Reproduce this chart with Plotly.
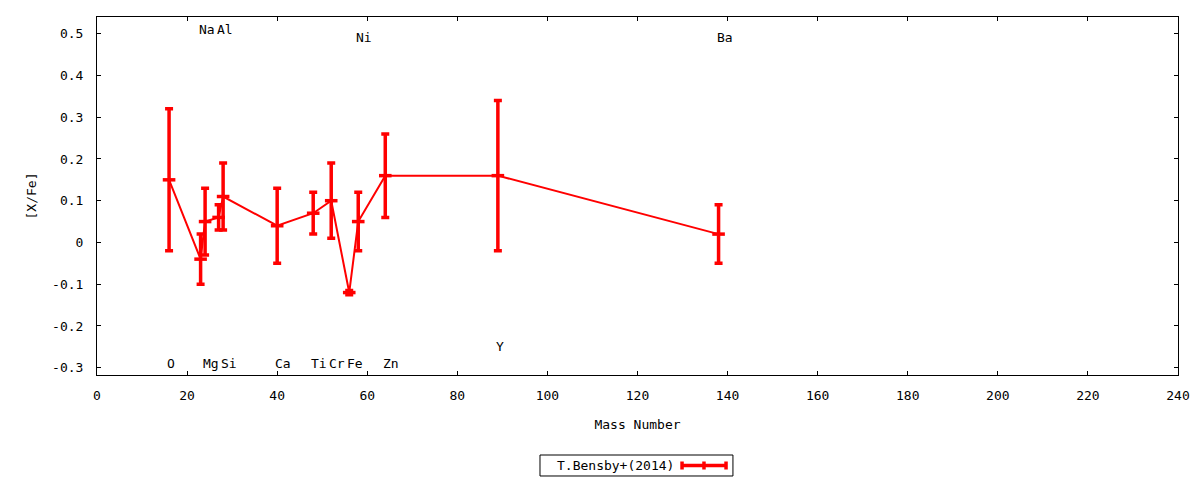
import plotly.graph_objects as go

# abundances [X/Fe] vs mass number, T.Bensby+(2014)
elements = ["O", "Na", "Mg", "Al", "Si", "Ca", "Ti", "Cr", "Fe", "Ni", "Zn", "Y", "Ba"]
mass = [16, 23, 24, 27, 28, 40, 48, 52, 56, 58, 64, 89, 138]
xfe = [0.15, -0.04, 0.05, 0.06, 0.11, 0.04, 0.07, 0.10, -0.12, 0.05, 0.16, 0.16, 0.02]
err = [0.17, 0.06, 0.08, 0.03, 0.08, 0.09, 0.05, 0.09, 0.005, 0.07, 0.10, 0.18, 0.07]

# where the element names sit
label_y = [-0.29, 0.51, -0.29, 0.51, -0.29, -0.29, -0.29, -0.29, -0.29, 0.49, -0.29, -0.25, 0.49]

x_ticks = [0, 20, 40, 60, 80, 100, 120, 140, 160, 180, 200, 220, 240]
y_ticks = [-0.3, -0.2, -0.1, 0, 0.1, 0.2, 0.3, 0.4, 0.5]
y_tick_text = ["-0.3", "-0.2", "-0.1", "0", "0.1", "0.2", "0.3", "0.4", "0.5"]

series_name = "T.Bensby+(2014)"

FONT = "DejaVu Sans Mono"
FS = 13
RED = "#ff0000"

fig = go.Figure()
fig.add_trace(go.Scatter(
    x=mass, y=xfe, mode="lines+markers", name=series_name,
    line=dict(color=RED, width=2),
    marker=dict(symbol="line-ew", size=9, color=RED, line=dict(color=RED, width=3.5)),
    error_y=dict(type="data", array=err, visible=True, color=RED, thickness=3.5, width=4),
    showlegend=False,
))

for el, m, ly in zip(elements, mass, label_y):
    fig.add_annotation(x=m - 0.9, y=ly, text=el, showarrow=False, xanchor="left",
                       yanchor="middle", font=dict(family=FONT, size=FS, color="black"))

# gnuplot style key box under the plot, text first then the sample
fig.add_shape(type="rect", xref="paper", yref="paper", x0=0.4098, x1=0.5883,
              y0=-0.2821, y1=-0.2235, line=dict(color="black", width=1))
fig.add_annotation(xref="paper", yref="paper", x=0.5356, y=-0.2528, text=series_name,
                   showarrow=False, xanchor="right", yanchor="middle",
                   font=dict(family=FONT, size=FS, color="black"))
fig.add_shape(type="line", xref="paper", yref="paper", x0=0.5412, x1=0.5819,
              y0=-0.2528, y1=-0.2528, line=dict(color=RED, width=3.5))
for xp in [0.5412, 0.5615, 0.5819]:
    fig.add_shape(type="line", xref="paper", yref="paper", x0=xp, x1=xp,
                  y0=-0.264, y1=-0.2416, line=dict(color=RED, width=3.5))

axis_common = dict(showline=True, linecolor="black", linewidth=1, mirror="ticks",
                   ticks="inside", ticklen=4, tickcolor="black", showgrid=False,
                   zeroline=False, automargin=False,
                   tickfont=dict(family=FONT, size=FS, color="black"))

fig.update_xaxes(range=[0, 240], tickvals=x_ticks, ticklabelstandoff=8,
                 title=dict(text="Mass Number", standoff=18,
                            font=dict(family=FONT, size=FS, color="black")),
                 **axis_common)
fig.update_yaxes(range=[-0.3175, 0.54], tickvals=y_ticks, ticktext=y_tick_text,
                 ticklabelstandoff=10,
                 title=dict(text="[X/Fe]", standoff=12,
                            font=dict(family=FONT, size=FS, color="black")),
                 **axis_common)

# page body has an 8px margin, so the figure is shifted by that much
fig.update_layout(
    width=1184, height=472,
    margin=dict(l=89, r=14, t=9, b=105),
    plot_bgcolor="white", paper_bgcolor="white",
    font=dict(family=FONT, size=FS, color="black"),
)

fig.write_html("out.html")
